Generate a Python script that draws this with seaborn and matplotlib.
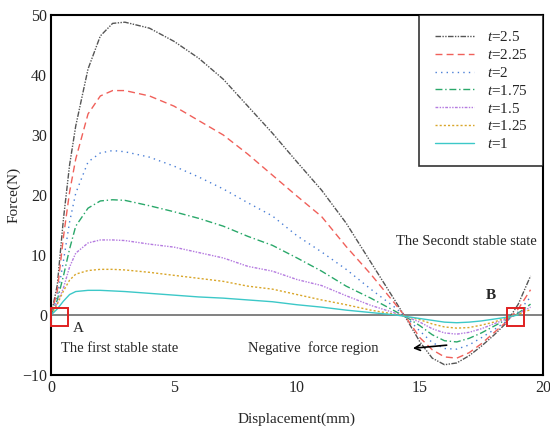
import numpy as np
import pandas as pd
import matplotlib
matplotlib.use("Agg")
import matplotlib.pyplot as plt
import seaborn as sns
from matplotlib.patches import Rectangle

# data
disp = [0, 0.25, 0.5, 0.75, 1, 1.5, 2, 2.5, 3, 4, 5, 6, 7, 8, 9, 10, 11, 12, 13, 14,
        14.5, 15, 15.5, 16, 16.5, 17, 17.5, 18, 18.5, 19, 19.5]

f_25 = [0, 5, 16, 25, 31.5, 41, 46.5, 48.6, 48.8, 47.8, 45.6, 42.8, 39.3, 34.8, 30.3, 25.5,
        20.8, 15.3, 8.8, 2.3, -1, -4.5, -7.2, -8.3, -8.0, -6.8, -5.2, -3.4, -1.4, 1.8, 6.5]
f_225 = [0, 4, 13, 20.5, 26, 33.5, 36.5, 37.4, 37.4, 36.5, 34.8, 32.4, 30, 26.8, 23.3, 19.8,
         16.4, 11.4, 6.8, 1.8, -0.8, -3.8, -5.8, -7, -7.2, -6.3, -4.8, -3, -1.2, 1, 4.2]
f_2 = [0, 3, 9, 15.5, 20.3, 25.5, 27, 27.4, 27.2, 26.3, 24.8, 23, 21, 18.7, 16.5, 13.2,
       10.5, 7.6, 4.3, 1.2, -0.6, -2.7, -4.6, -5.6, -5.7, -5, -3.8, -2.5, -1.1, 0.5, 3]
f_175 = [0, 2.5, 6.5, 11, 14.8, 17.8, 19, 19.2, 19.1, 18.2, 17.2, 16.1, 14.8, 13.1, 11.6, 9.5,
         7.3, 4.8, 2.8, 0.6, -0.5, -1.8, -3.3, -4.3, -4.5, -3.9, -3, -1.9, -0.8, 0.3, 1.8]
f_15 = [0, 2, 4.5, 8, 10.3, 12, 12.5, 12.5, 12.4, 11.8, 11.3, 10.4, 9.5, 8.1, 7.3, 5.9,
        4.9, 3.2, 1.6, 0.3, -0.4, -1.2, -2.3, -3, -3.2, -2.9, -2.3, -1.5, -0.7, 0.2, 1.3]
f_125 = [0, 1.8, 4, 5.8, 6.8, 7.4, 7.6, 7.6, 7.5, 7.1, 6.6, 6.1, 5.6, 4.8, 4.3, 3.4,
         2.5, 1.7, 0.8, 0.1, -0.3, -0.8, -1.5, -2, -2.2, -2.1, -1.7, -1.2, -0.5, 0.1, 0.9]
f_1 = [0, 1, 2.3, 3.4, 3.9, 4.1, 4.1, 4.0, 3.9, 3.6, 3.3, 3.0, 2.8, 2.5, 2.2, 1.7,
       1.3, 0.8, 0.4, 0, -0.3, -0.6, -0.9, -1.2, -1.3, -1.2, -1.0, -0.7, -0.4, 0.0, None]

labels = ["$t$=2.5", "$t$=2.25", "$t$=2", "$t$=1.75", "$t$=1.5", "$t$=1.25", "$t$=1"]
series = [f_25, f_225, f_2, f_175, f_15, f_125, f_1]
colors = ["#555555", "#f0605a", "#4a7fd6", "#2aa86a", "#b57be0", "#d9a62a", "#3cc8c8"]
styles = [(0, (4, 1, 1, 1, 1, 1)), (0, (5, 3)), (0, (1, 3)), (0, (5, 2, 1, 2)),
          (0, (2, 1, 1, 1, 1, 1)), (0, (1.5, 1.5)), "-"]

sns.set_style("white")
plt.rcParams["font.family"] = ["Liberation Serif", "DejaVu Serif"]
plt.rcParams["mathtext.fontset"] = "custom"
plt.rcParams["mathtext.it"] = "Liberation Serif:italic"
plt.rcParams["mathtext.rm"] = "Liberation Serif"

fig = plt.figure(figsize=(5.5, 4.28), dpi=100)
ax = fig.add_axes([0.093, 0.124, 0.894, 0.841])

for f, lab, c, ls in zip(series, labels, colors, styles):
    df = pd.DataFrame({"x": disp, "y": f}).dropna()
    sns.lineplot(data=df, x="x", y="y", ax=ax, color=c, linestyle=ls, linewidth=1.0, label=lab)

ax.axhline(0, color="#777777", linewidth=1.3, zorder=0)

ax.set_xlim(0, 20)
ax.set_ylim(-10, 50)
ax.set_xticks([0, 5, 10, 15, 20])
ax.set_yticks([-10, 0, 10, 20, 30, 40, 50])
ax.tick_params(direction="in", length=5, width=1.2, labelsize=11.5, top=False, right=False)
ax.tick_params(axis="y", pad=3)
for s in ax.spines.values():
    s.set_color("black")
    s.set_linewidth(1.5)
ax.set_xlabel("Displacement(mm)", fontsize=11, labelpad=12)
ax.set_ylabel("Force(N)", fontsize=11, labelpad=1)

# marked stable points
for x0, y0 in [(0, -1.8), (18.56, -1.8)]:
    ax.add_patch(Rectangle((x0, y0), 0.68, 3.0, fill=False, edgecolor="#e02020",
                           linewidth=1.4, clip_on=False, zorder=5))

ax.text(1.1, -2.2, "A", fontsize=11, ha="center", va="center")
ax.text(0.4, -5.6, "The first stable state", fontsize=10.5, ha="left", va="center")
ax.text(17.9, 3.3, "B", fontsize=11, fontweight="bold", ha="center", va="center")
ax.text(19.75, 12.2, "The Secondt stable state", fontsize=10.5, ha="right", va="center")
ax.text(8.0, -5.5, "Negative  force region", fontsize=10.5, ha="left", va="center")
ax.annotate("", xy=(14.6, -5.6), xytext=(16.2, -5.0),
            arrowprops=dict(arrowstyle="->", color="black", lw=1.2))

leg = ax.legend(loc="upper right", borderaxespad=0, fontsize=11, handlelength=2.6,
                frameon=True, fancybox=False, edgecolor="black", borderpad=1.0,
                labelspacing=0.25)
leg.get_frame().set_linewidth(1.2)

fig.savefig("out.png", dpi=100)
